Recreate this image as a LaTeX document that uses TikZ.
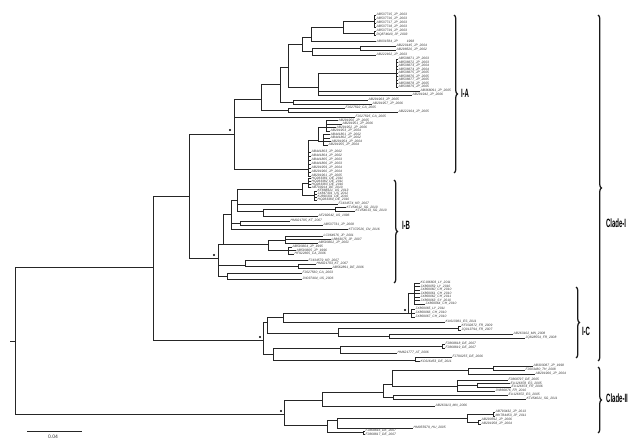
\documentclass[tikz,border=0pt]{standalone}
\usepackage{fontspec}
\setmainfont{Liberation Sans}
\newfontfamily\cladefont[FakeStretch=0.5]{Liberation Sans}
\usepackage{tikz}
\usetikzlibrary{decorations.pathreplacing}
\tikzset{
  branch/.style={line width=0.85pt,draw=black!85},
  leaflab/.style={anchor=west,inner sep=0.5pt,font=\itshape\fontsize{3.3}{3.6}\selectfont,text=black!80},
  boot/.style={circle,fill=black,inner sep=0pt,minimum size=2.2pt},
  cladebrace/.style={decorate,decoration={brace,amplitude=3.5pt},line width=1.3pt,draw=black!90},
  cladelab/.style={font=\cladefont\bfseries\fontsize{12}{12}\selectfont},
  scalelab/.style={font=\fontsize{5}{5}\selectfont,inner sep=0pt,text=black!80},
}
\begin{document}
\begin{tikzpicture}[x=1pt,y=-1pt]
  \useasboundingbox (0,0) rectangle (640,446);
  \coordinate (rootstub) at (10,341);
  \coordinate (root) at (15,341);
  \coordinate (cladeI) at (153,267);
  \coordinate (cladeII) at (284,414);
  \coordinate (iab) at (189,196);
  \coordinate (ia) at (234,134);
  \coordinate (ib) at (218,258);
  \coordinate (ic) at (263,340);
  % I-A
  \coordinate (a1) at (261,99);
  \coordinate (a11) at (280,84);
  \coordinate (a111) at (288,67);
  \coordinate (a1111) at (302,44);
  \coordinate (a11111) at (311,37);
  \coordinate (ag) at (343,27);
  \coordinate (asa) at (374,21);
  \coordinate (asb) at (374,33);
  \coordinate (a11112) at (312,51);
  \coordinate (an1) at (360,48);
  \coordinate (a1112) at (318,87);
  \coordinate (as3) at (396,73);
  \coordinate (a112) at (293,102);
  \coordinate (a12) at (288,110);
  \coordinate (a3) at (308,169);
  \coordinate (a31) at (318,140);
  \coordinate (a311) at (326,127);
  \coordinate (a312) at (323,141);
  % I-B
  \coordinate (b1) at (223,244);
  \coordinate (b11) at (231,214);
  \coordinate (b111) at (237,200);
  \coordinate (bt) at (302,189);
  \coordinate (bs1) at (308,183);
  \coordinate (bs2) at (314,195);
  \coordinate (b1112) at (263,211);
  \coordinate (bns) at (335,209);
  \coordinate (b112) at (240,223);
  \coordinate (b12) at (268,244);
  \coordinate (b121) at (285,240);
  \coordinate (b122) at (288,250);
  \coordinate (b3) at (245,265);
  \coordinate (bn3) at (298,266);
  \coordinate (b2) at (227,276);
  % I-C
  \coordinate (ica) at (267,322);
  \coordinate (icb) at (273,354);
  \coordinate (icaa) at (283,317);
  \coordinate (icx) at (408,313);
  \coordinate (icx1) at (414,293);
  \coordinate (icx2) at (411,313);
  \coordinate (icab) at (338,333);
  \coordinate (icab1) at (458,328);
  \coordinate (icab2) at (389,336);
  \coordinate (icba) at (340,348);
  \coordinate (icba1) at (442,346);
  \coordinate (icbb) at (415,360);
  % Clade-II
  \coordinate (d1) at (322,400);
  \coordinate (d11) at (383,392);
  \coordinate (d111) at (392,384);
  \coordinate (d1111) at (468,370);
  \coordinate (dna) at (493,368);
  \coordinate (d1112) at (457,386);
  \coordinate (dnb) at (477,385);
  \coordinate (d112) at (393,397);
  \coordinate (d2) at (327,425);
  \coordinate (d21) at (337,420);
  \coordinate (d211) at (467,418);
  \coordinate (dne) at (493,414);
  \coordinate (dnf) at (478,422);
  \coordinate (dnd) at (363,432);

  \draw[branch] (rootstub) -- (root);
  \foreach \p/\c in {root/cladeI,root/cladeII,cladeI/iab,cladeI/ic,iab/ia,iab/ib,
      ia/a1,ia/a3,a1/a11,a1/a12,a11/a111,a11/a112,a111/a1111,a111/a1112,a1111/a11111,
      a1111/a11112,a11111/ag,ag/asa,ag/asb,a11112/an1,a1112/as3,a3/a31,a31/a311,a31/a312,
      ib/b1,ib/b3,ib/b2,b1/b11,b1/b12,b11/b111,b11/b112,b111/bt,b111/b1112,bt/bs1,bt/bs2,
      b1112/bns,b12/b121,b12/b122,b3/bn3,
      ic/ica,ic/icb,ica/icaa,ica/icab,icaa/icx,icx/icx1,icx/icx2,icab/icab1,icab/icab2,
      icb/icba,icb/icbb,icba/icba1,
      cladeII/d1,cladeII/d2,d1/d11,d11/d111,d11/d112,d111/d1111,d111/d1112,d1111/dna,
      d1112/dnb,d2/d21,d2/dnd,d21/d211,d211/dne,d211/dnf}
    \draw[branch] (\p) |- (\c);

  \foreach \p/\x/\y/\t [count=\i] in {
      asa/376/15/AB537715\_JP\_2003, asa/376/19/AB537716\_JP\_2003,
      asa/376/23/AB537717\_JP\_2003, asa/376/27/AB537718\_JP\_2003,
      asb/376/31/AB537719\_JP\_2003, asb/376/35/DQ874640\_JP\_2003,
      a11111/376/41.5/AB031584\_JP\hspace{9pt}1998,
      an1/396/46/AB220145\_JP\_2004, an1/396/50/AB298520\_JP\_2002,
      a11112/376/55/AB222162\_JP\_2003,
      as3/398/59/AB538671\_JP\_2003, as3/398/62.5/AB538672\_JP\_2003,
      as3/398/66/AB538673\_JP\_2004, as3/398/69.5/AB538674\_JP\_2004,
      as3/398/73/AB538675\_JP\_2005, as3/398/76.5/AB538676\_JP\_2005,
      as3/398/80/AB538677\_JP\_2005, as3/398/83.5/AB538678\_JP\_2005,
      as3/398/87/AB538679\_JP\_2005,
      a1112/420/91/AB368091\_JP\_2005, a1112/412/95/AB291942\_JP\_2006,
      a112/368/100/AB291963\_JP\_2005, a112/372/104/AB291957\_JP\_2006,
      a12/345/108/FJ027592\_CA\_2005, a12/398/112/AB222164\_JP\_2005,
      ia/355/117/FJ027595\_CA\_2005,
      a311/338/120.5/AB291950\_JP\_2005, a311/342/124/AB291951\_JP\_2006,
      a311/336/127.5/AB291952\_JP\_2006, a311/330/131/AB291953\_JP\_2004,
      a312/330/134.5/AB441801\_JP\_2002, a312/330/138/AB441802\_JP\_2002,
      a312/331/141.5/AB291954\_JP\_2004, a312/328/145/AB291955\_JP\_2004,
      a3/311/152/AB441803\_JP\_2002, a3/311/156/AB441804\_JP\_2002,
      a3/311/160/AB441805\_JP\_2003, a3/311/164/AB441806\_JP\_2003,
      a3/311/168/AB291959\_JP\_2004, a3/311/172/AB291960\_JP\_2004,
      a3/311/176/AB291961\_JP\_2005,
      bs1/311/178.5/HQ283381\_DE\_2011, bs1/311/181.5/HQ283382\_DE\_2011,
      bs1/311/184.5/HQ283383\_DE\_2010, bs1/311/187.5/AB700914\_DE\_2010,
      bs2/317/191/KF888321\_US\_2013, bs2/317/194/JX847301\_US\_2012,
      bs2/317/197/KJ690331\_DE\_2010, bs2/317/200/HQ283384\_DE\_2010,
      b111/338/204/FJ434574\_KR\_2007,
      bns/346/207.5/KT454012\_SG\_2010, bns/355/211/KT454013\_SG\_2010,
      b1112/318/216/AF292642\_US\_1996,
      b112/290/221/HM021795\_KT\_2007, b112/323/225/AB537731\_JP\_2008,
      b11/348/229.5/KT372526\_CN\_2016,
      b121/323/236/LC064976\_JP\_2001, b121/331/239.5/LB863075\_JP\_2007,
      b121/318/243/AB593602\_JP\_2001,
      b122/292/247/AB593604\_JP\_1995, b122/296/250.5/AB593605\_JP\_1996,
      b122/294/254/HF922665\_CA\_2006,
      b3/308/260.5/FJ434579\_KR\_2007,
      bn3/316/264/HM021793\_KT\_2007, bn3/332/268/AB562891\_DE\_2006,
      b2/302/273/FJ027560\_CA\_2003, b2/302/279/JN037404\_US\_2006,
      icx1/420/283/KC196803\_LY\_2011, icx1/420/286.5/JX869059\_LY\_2010,
      icx1/420/290/JX869060\_CH\_2010, icx1/420/293.5/JX869061\_CH\_2010,
      icx1/420/297/JX869062\_CH\_2011, icx1/420/300.5/JX869063\_SY\_2010,
      icx1/425/304/JX869064\_CH\_2010,
      icx2/415/309/JX869065\_LY\_2011, icx2/415/313/JX869066\_CH\_2010,
      icx2/415/317/JX869067\_CH\_2010,
      icaa/445/322/KU613961\_ES\_2011,
      icab1/461/326/KF032872\_FR\_2009, icab1/461/330/JQ013794\_FR\_2007,
      icab2/513/334/AB263102\_MN\_2008, icab2/525/338/JQ828554\_FR\_2008,
      icba1/445/344/FJ868818\_DE\_2007, icba1/445/348/FJ868819\_DE\_2007,
      icba/397/353/HM621777\_AT\_2006,
      icbb/452/357/FJ790255\_DE\_2006, icbb/420/361.5/KC616453\_DE\_2011,
      dna/533/366/AB303087\_JP\_1998, dna/525/370/FJ603480\_TH\_2008,
      d1111/535/374/AB291966\_JP\_2004,
      d1112/508/380/FJ868797\_DE\_2005,
      dnb/510/383.5/EU126878\_ES\_2005, dnb/511/387/EU126874\_FR\_2006,
      d1112/495/391/JN866876\_FR\_2010,
      d112/508/395/EU126872\_ES\_2005, d112/526/399/KT454021\_SG\_2011,
      d1/435/406/AB263113\_MN\_2006,
      dne/495/412/AB793432\_JP\_2013, dne/495/416/MK784453\_JP\_2011,
      dnf/481/420/AB290592\_JP\_2006, dnf/481/424/AB291958\_JP\_2004,
      d21/413/428/HM055979\_HU\_2005,
      dnd/365/431/FJ868816\_DE\_2007, dnd/365/434.5/FJ868817\_DE\_2007}{
    \node[leaflab] (leaf\i) at (\x,\y) {\t};
    \draw[branch] (\p) |- (leaf\i.west);
  }

  \node[boot] (bootia) at (230,130) {};
  \node[boot] (bootib) at (214,255) {};
  \node[boot] (bootic) at (260,337) {};
  \node[boot] (booticx) at (405,310) {};
  \node[boot] (bootii) at (281,411) {};

  \coordinate (iatop) at (454,15);   \coordinate (iabot) at (454,173);
  \coordinate (ibtop) at (394,180);  \coordinate (ibbot) at (394,283);
  \coordinate (ictop) at (576,287);  \coordinate (icbot) at (576,358);
  \coordinate (citop) at (598,15);   \coordinate (cibot) at (598,361);
  \coordinate (ciitop) at (598,367); \coordinate (ciibot) at (598,433);
  \draw[cladebrace] (iatop) -- (iabot);
  \draw[cladebrace] (ibtop) -- (ibbot);
  \draw[cladebrace] (ictop) -- (icbot);
  \draw[cladebrace] (citop) -- (cibot);
  \draw[cladebrace] (ciitop) -- (ciibot);
  \node[cladelab] (labia) at (465,93) {I-A};
  \node[cladelab] (labib) at (406,225) {I-B};
  \node[cladelab] (labic) at (586,331) {I-C};
  \node[cladelab] (labci) at (616,223) {Clade-I};
  \node[cladelab] (labcii) at (617,398) {Clade-II};

  \coordinate (scalea) at (27,431);
  \coordinate (scaleb) at (82,431);
  \draw[branch] (scalea) -- (scaleb);
  \node[scalelab] (scaletxt) at (53,437) {0.04};
\end{tikzpicture}
\end{document}
